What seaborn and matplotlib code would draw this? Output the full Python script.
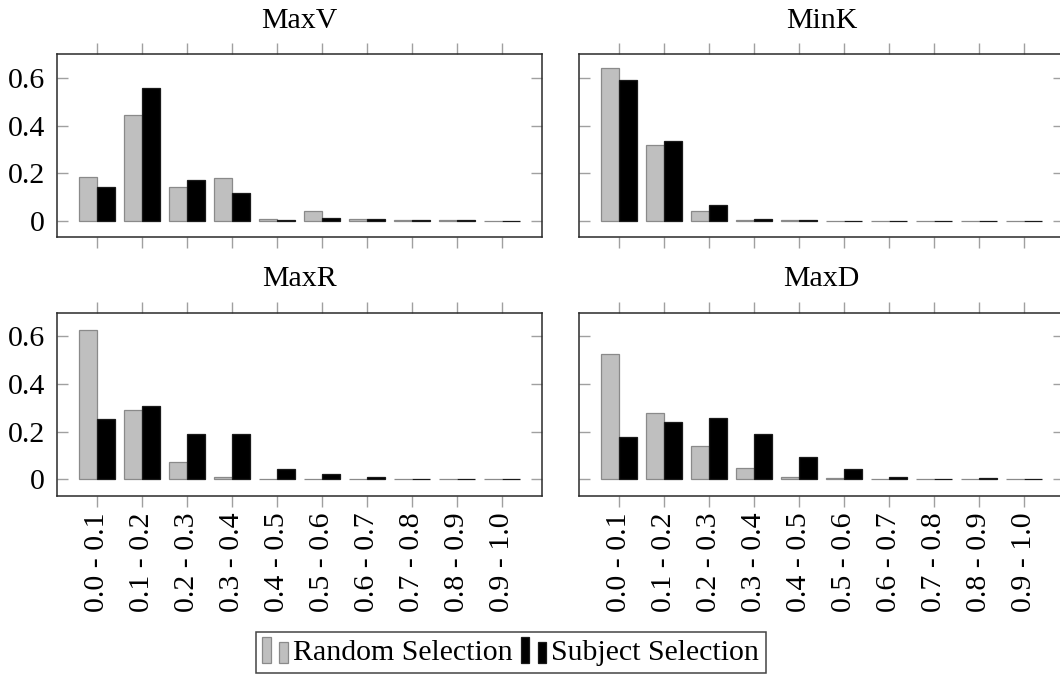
import matplotlib
matplotlib.use("Agg")
import matplotlib.pyplot as plt
import seaborn as sns
import pandas as pd
from matplotlib.patches import Rectangle
from matplotlib.legend_handler import HandlerBase

# ---------------- data ----------------
bins = ["0.0 - 0.1", "0.1 - 0.2", "0.2 - 0.3", "0.3 - 0.4", "0.4 - 0.5",
        "0.5 - 0.6", "0.6 - 0.7", "0.7 - 0.8", "0.8 - 0.9", "0.9 - 1.0"]
panels = ["MaxV", "MinK", "MaxR", "MaxD"]
series = ["Random Selection", "Subject Selection"]

maxv_random  = [0.185, 0.443, 0.140, 0.180, 0.006, 0.041, 0.005, 0.001, 0.001, 0.0]
maxv_subject = [0.140, 0.557, 0.170, 0.118, 0.002, 0.013, 0.006, 0.001, 0.001, 0.0]
mink_random  = [0.641, 0.318, 0.039, 0.002, 0.001, 0.0, 0.0, 0.0, 0.0, 0.0]
mink_subject = [0.590, 0.337, 0.066, 0.008, 0.003, 0.0, 0.0, 0.0, 0.0, 0.0]
maxr_random  = [0.628, 0.292, 0.073, 0.008, 0.0, 0.0, 0.0, 0.0, 0.0, 0.0]
maxr_subject = [0.254, 0.307, 0.191, 0.188, 0.042, 0.020, 0.008, 0.002, 0.002, 0.002]
maxd_random  = [0.527, 0.280, 0.140, 0.046, 0.008, 0.003, 0.0, 0.0, 0.0, 0.0]
maxd_subject = [0.177, 0.241, 0.258, 0.189, 0.091, 0.043, 0.008, 0.002, 0.004, 0.002]

yticks = [0, 0.2, 0.4, 0.6]
ytick_labels = ["0", "0.2", "0.4", "0.6"]

values = {
    "MaxV": (maxv_random, maxv_subject),
    "MinK": (mink_random, mink_subject),
    "MaxR": (maxr_random, maxr_subject),
    "MaxD": (maxd_random, maxd_subject),
}

rows = []
for p in panels:
    r, s = values[p]
    for b, v in zip(bins, r):
        rows.append((p, b, series[0], v))
    for b, v in zip(bins, s):
        rows.append((p, b, series[1], v))
df = pd.DataFrame(rows, columns=["panel", "bin", "series", "value"])

# ---------------- style ----------------
sns.set_style("white")
plt.rcParams["font.family"] = ["Liberation Serif", "DejaVu Serif"]
plt.rcParams["text.color"] = "black"
plt.rcParams["xtick.labelcolor"] = "black"
plt.rcParams["ytick.labelcolor"] = "black"
FS = 21.5

fill = {series[0]: "#bfbfbf", series[1]: "#000000"}
edge = {series[0]: "#8a8a8a", series[1]: "#1a1a1a"}
spine_col = "#2a2a2a"
tick_col = "#a0a0a0"

fig = plt.figure(figsize=(10.6, 6.77), dpi=100)
W, H = 1060.0, 677.0
axw, axh = 485 / W, 183 / H
positions = {
    "MaxV": (56.7 / W, 1 - 237.3 / H),
    "MinK": (579.3 / W, 1 - 237.3 / H),
    "MaxR": (56.7 / W, 1 - 495.7 / H),
    "MaxD": (579.3 / W, 1 - 495.7 / H),
}

for p in panels:
    x0, y0 = positions[p]
    ax = fig.add_axes([x0, y0, axw, axh])
    sub = df[df["panel"] == p]
    sns.barplot(data=sub, x="bin", y="value", hue="series", order=bins,
                hue_order=series, palette=fill, width=0.8, errorbar=None,
                linewidth=0.9, legend=False, ax=ax, zorder=3)
    for cont, sname in zip(ax.containers, series):
        for bar in cont:
            bar.set_edgecolor(edge[sname])
            bar.set_linewidth(0.9)
    ax.set_xlim(-0.889, 9.889)
    ax.set_ylim(-0.07, 0.70)
    ax.set_xlabel("")
    ax.set_ylabel("")
    for sp in ax.spines.values():
        sp.set_visible(True)
        sp.set_color(spine_col)
        sp.set_linewidth(1.1)
    ax.set_yticks(yticks)
    ax.set_xticks(range(len(bins)))
    ax.tick_params(axis="x", which="major", direction="out", length=8, width=1.0,
                   color=tick_col, top=True, bottom=True, labelsize=FS, pad=4)
    ax.tick_params(axis="y", which="major", direction="in", length=8, width=1.0,
                   color=tick_col, left=True, right=True, labelsize=FS, pad=8.4)
    if p in ("MaxV", "MaxR"):
        ax.set_yticklabels(ytick_labels)
    else:
        ax.set_yticklabels([])
    if p in ("MaxR", "MaxD"):
        ax.set_xticklabels(bins, rotation=90)
    else:
        ax.set_xticklabels([])
    ax.text(0.5, 1.144, p, transform=ax.transAxes, ha="center", va="baseline",
            fontsize=FS)


class TwoBarHandler(HandlerBase):
    def create_artists(self, legend, orig_handle, xdescent, ydescent, width,
                       height, fontsize, trans):
        fc = orig_handle.get_facecolor()
        ec = orig_handle.get_edgecolor()
        bw = width * 0.34
        x = -xdescent
        y = -ydescent - height * 0.05
        r1 = Rectangle((x, y), bw, height * 1.1, facecolor=fc, edgecolor=ec,
                       linewidth=0.9, transform=trans)
        r2 = Rectangle((x + width - bw, y), bw, height * 0.88, facecolor=fc,
                       edgecolor=ec, linewidth=0.9, transform=trans)
        return [r1, r2]


handles = [Rectangle((0, 0), 1, 1, facecolor=fill[s], edgecolor=edge[s]) for s in series]
leg = fig.legend(handles, series, loc="center",
                 bbox_to_anchor=(510.7 / W, 1 - 652.3 / H), ncol=2,
                 handler_map={Rectangle: TwoBarHandler()},
                 fontsize=FS, frameon=True, fancybox=False, framealpha=1,
                 edgecolor="#444444", borderpad=0.22, handlelength=0.85,
                 handleheight=0.85, handletextpad=0.17, columnspacing=0.28,
                 borderaxespad=0)
leg.get_frame().set_linewidth(1.1)

fig.savefig("out.png", dpi=100)
